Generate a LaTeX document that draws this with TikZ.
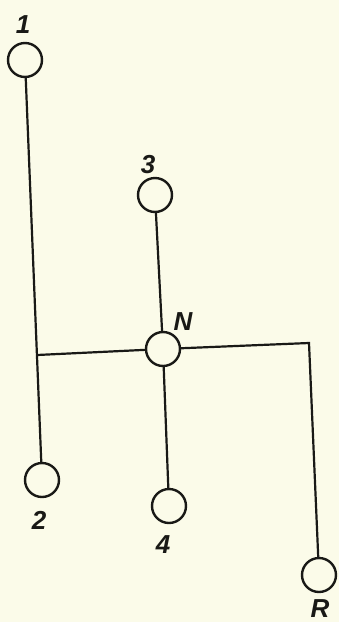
\documentclass[tikz,border=0pt]{standalone}
\usepackage{fontspec}
\setmainfont{Liberation Sans}
\definecolor{paper}{RGB}{251,251,233}
\definecolor{ink}{RGB}{25,25,22}
\begin{document}
\begin{tikzpicture}[x=1pt,y=-1pt,
  term/.style={circle,draw=ink,line width=2.4pt,minimum size=34pt,inner sep=0pt,fill=paper},
  wire/.style={draw=ink,line width=2.2pt},
  lbl/.style={text=ink,font=\fontsize{26}{26}\selectfont\itshape\bfseries,inner sep=0pt}]
\fill[paper] (0,0) rectangle (339,622);
\useasboundingbox (0,0) rectangle (339,622);
\node[term] (c1) at (25,60) {};
\node[term] (c2) at (42,480) {};
\node[term] (c3) at (155,195) {};
\node[term] (cN) at (163,349) {};
\node[term] (c4) at (169,506) {};
\node[term] (cR) at (319,575) {};
\coordinate (j) at (37,355);
\coordinate (k) at (309,343);
\node[lbl] (l1) at (23,25) {1};
\node[lbl] (l2) at (39,520) {2};
\node[lbl] (l3) at (148,165) {3};
\node[lbl] (lN) at (183,322) {N};
\node[lbl] (l4) at (163,545) {4};
\node[lbl] (lR) at (320,609) {R};
\draw[wire] (c1) -- (c2);
\draw[wire] (j) -- (cN);
\draw[wire] (c3) -- (cN);
\draw[wire] (cN) -- (c4);
\draw[wire] (cN) -- (k) -- (cR);
\end{tikzpicture}
\end{document}
